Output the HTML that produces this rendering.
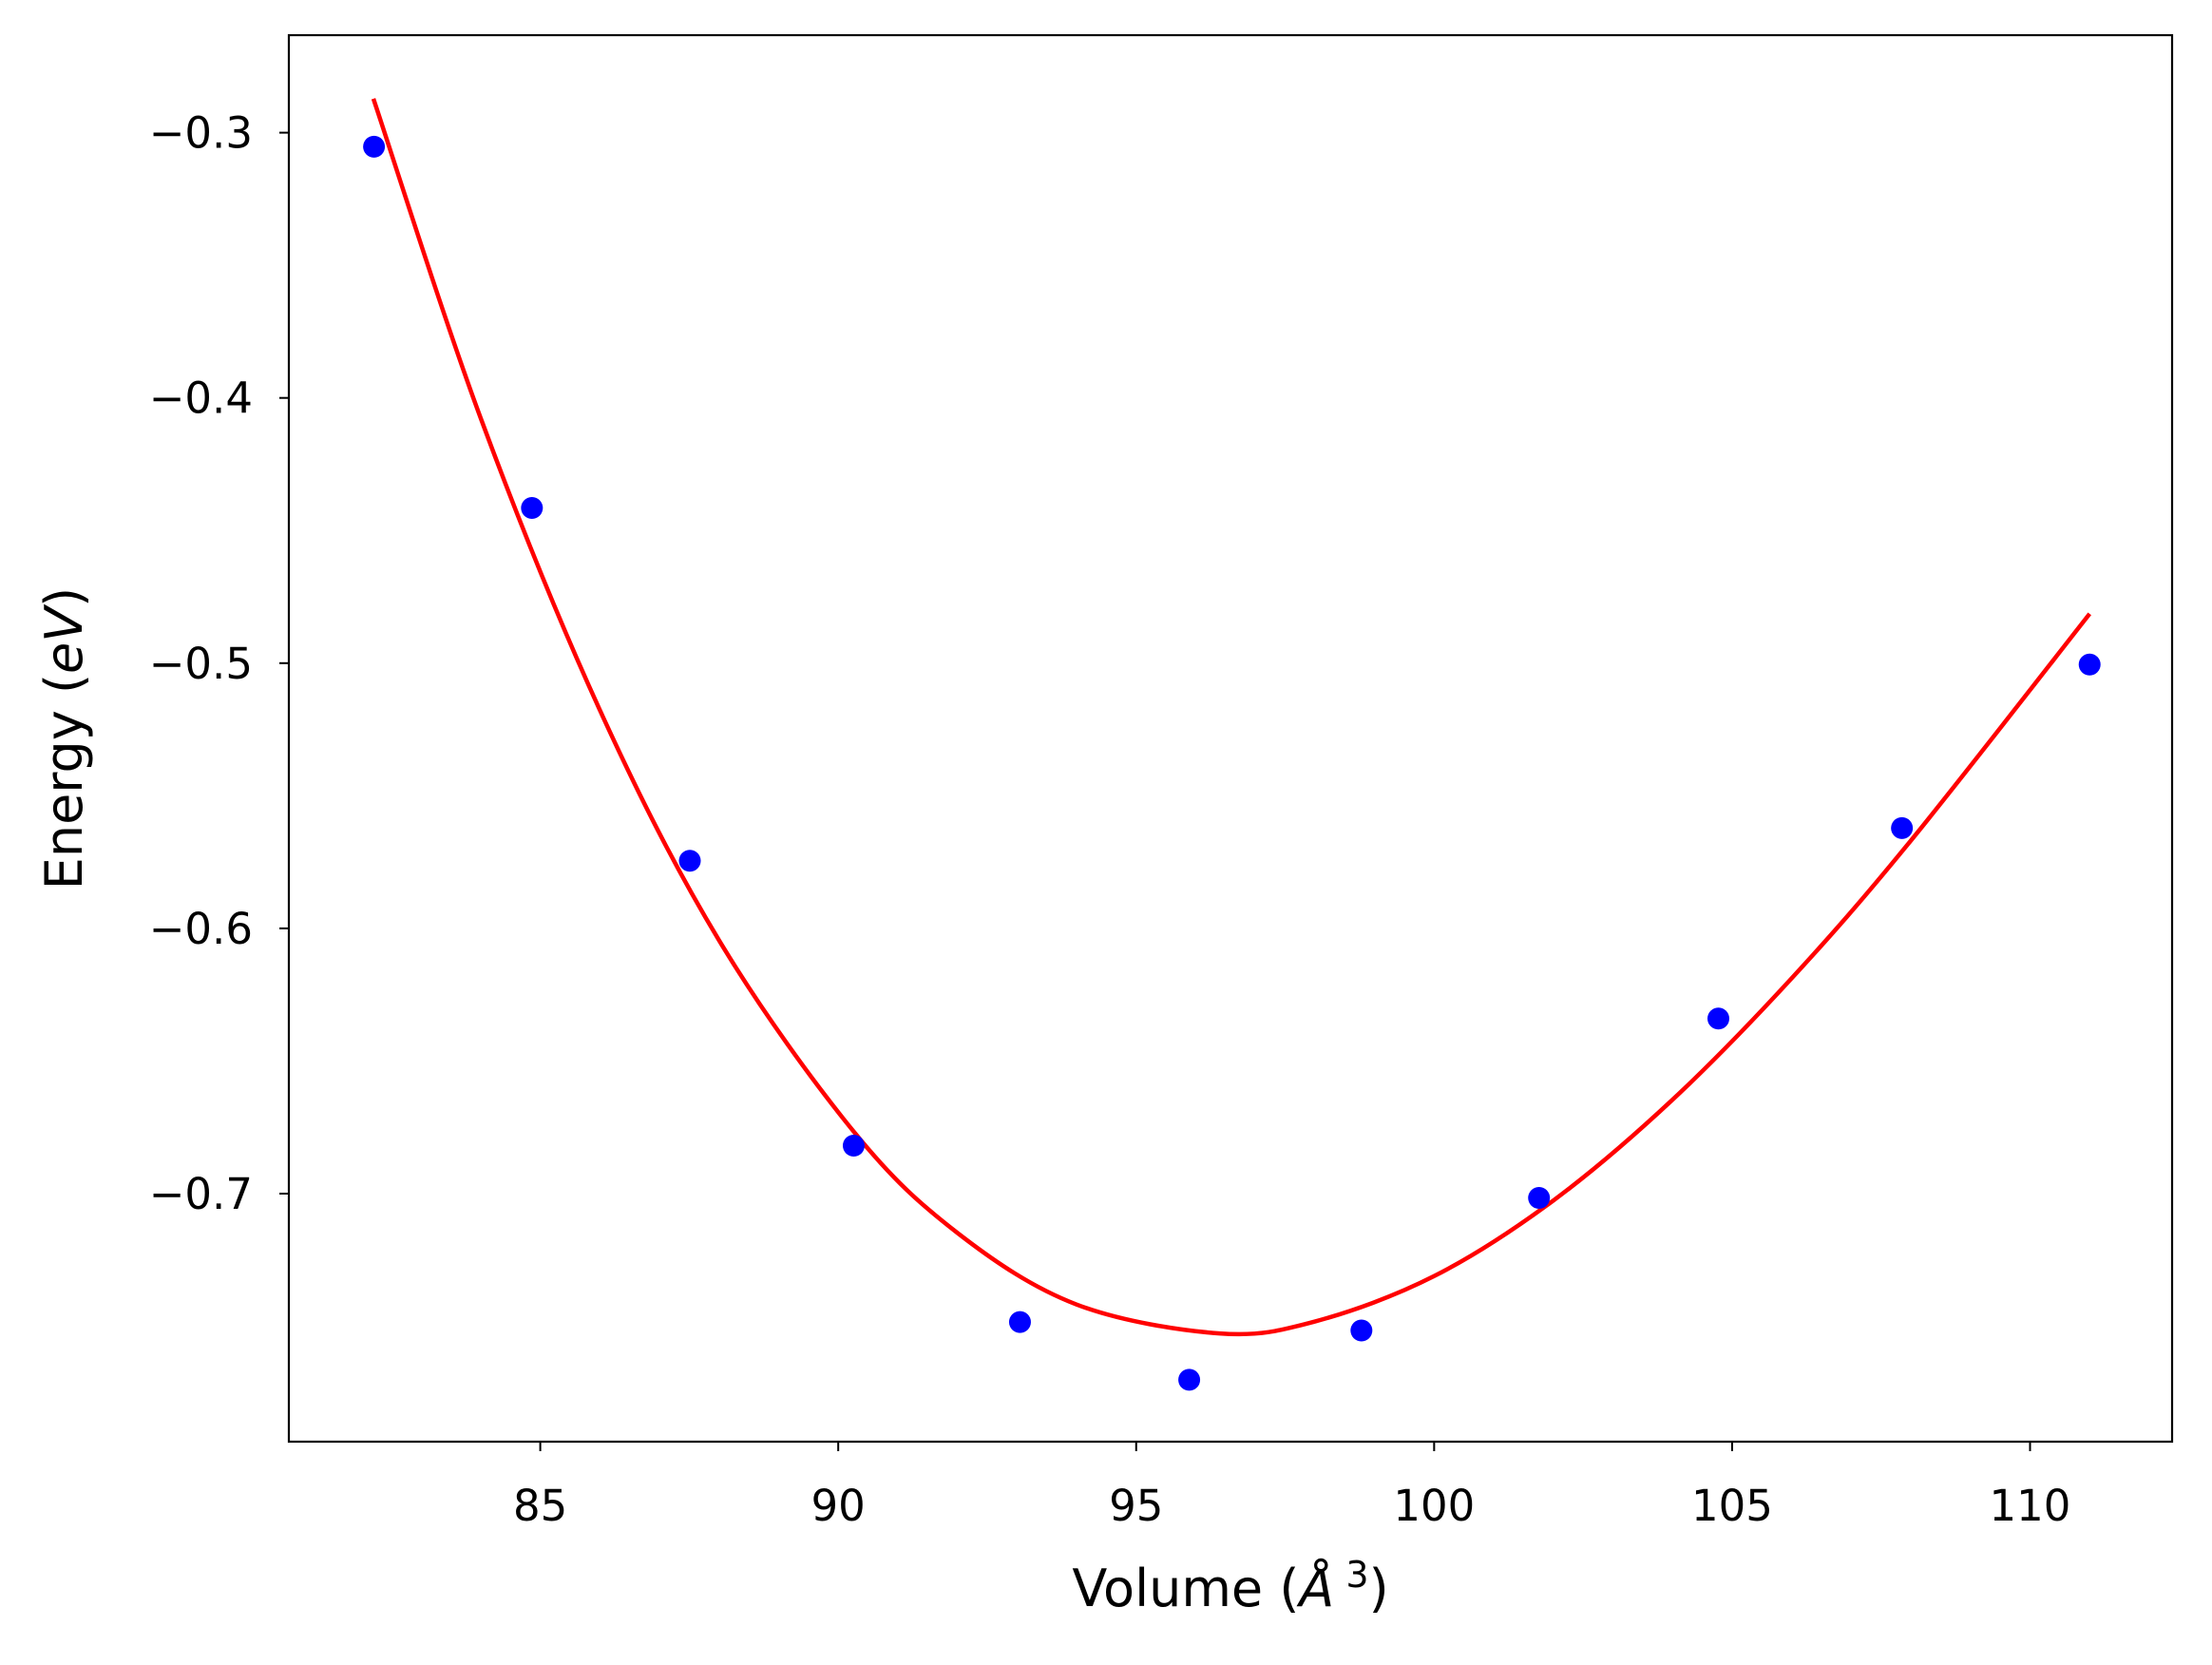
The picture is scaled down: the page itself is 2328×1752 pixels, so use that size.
<!DOCTYPE html>
<html><head><meta charset="utf-8"><style>
html,body{margin:0;padding:0;background:#fff;}
svg text{font-family:"DejaVu Sans","Liberation Sans",sans-serif;fill:#000;}
</style></head><body>
<svg id="chart" width="2328" height="1747" viewBox="0 0 2328 1747" xmlns="http://www.w3.org/2000/svg">
<rect x="0" y="0" width="2328" height="1747" fill="#fff"/>
<g id="plot"></g>
</svg>
<script>
const volumes = [82.21, 84.86, 87.51, 90.26, 93.05, 95.89, 98.78, 101.76, 104.77, 107.85, 111.0];
const energies = [-0.3053, -0.4415, -0.5745, -0.6819, -0.7484, -0.7702, -0.7516, -0.7016, -0.634, -0.5622, -0.5005];
const fitVolumes = [82.2, 84.0, 86.0, 88.0, 90.26, 92.0, 94.0, 96.4, 98.0, 100.0, 102.0, 104.0, 106.0, 108.0, 111.0];
const fitEnergies = [-0.2872, -0.4076, -0.5177, -0.6045, -0.6766, -0.7148, -0.7418, -0.7527, -0.7482, -0.7311, -0.7026, -0.6646, -0.6188, -0.5669, -0.4814];
const xTicks = [85, 90, 95, 100, 105, 110];
const yTicks = [-0.3, -0.4, -0.5, -0.6, -0.7];
const yTickLabels = ["\u22120.3", "\u22120.4", "\u22120.5", "\u22120.6", "\u22120.7"];

const L = 304, R = 2286, T = 37, B = 1517;
function xs(v){ return 568.6 + (v - 85) * (2136.5 - 568.6) / 25; }
function ys(e){ return 139.6 + (-0.3 - e) * (1256 - 139.6) / 0.4; }
const NS = "http://www.w3.org/2000/svg";
const g = document.getElementById('plot');
function mk(tag, attrs){ const el = document.createElementNS(NS, tag); for (const k in attrs) el.setAttribute(k, attrs[k]); g.appendChild(el); return el; }

const pts = fitVolumes.map((v, i) => [xs(v), ys(fitEnergies[i])]);
let d = "M" + pts[0][0] + "," + pts[0][1];
for (let i = 0; i < pts.length - 1; i++) {
  const p0 = pts[Math.max(0, i - 1)], p1 = pts[i], p2 = pts[i + 1], p3 = pts[Math.min(pts.length - 1, i + 2)];
  const c1 = [p1[0] + (p2[0] - p0[0]) / 6, p1[1] + (p2[1] - p0[1]) / 6];
  const c2 = [p2[0] - (p3[0] - p1[0]) / 6, p2[1] - (p3[1] - p1[1]) / 6];
  d += " C" + c1[0] + "," + c1[1] + " " + c2[0] + "," + c2[1] + " " + p2[0] + "," + p2[1];
}
const curve = mk('path', {d: d, fill: 'none', stroke: '#ff0000', 'stroke-width': 4.5});



volumes.forEach((v, i) => {
  const c = mk('circle', {cx: xs(v), cy: ys(energies[i]), r: 11.5, fill: '#0000ff'});
  
  
});

const frame = mk('rect', {x: L, y: T, width: R - L, height: B - T, fill: 'none', stroke: '#000', 'stroke-width': 2.2});



xTicks.forEach(t => {
  const x = xs(t);
  const ln = mk('line', {x1: x, y1: B, x2: x, y2: B + 10, stroke: '#000', 'stroke-width': 2});
  
  
  const tx = mk('text', {x: x, y: 1600, 'font-size': 45, 'text-anchor': 'middle'});
  tx.textContent = String(t);
  
  
});
yTicks.forEach((t, i) => {
  const y = ys(t);
  const ln = mk('line', {x1: L - 10, y1: y, x2: L, y2: y, stroke: '#000', 'stroke-width': 2});
  
  
  const tx = mk('text', {x: 266, y: y + 16, 'font-size': 45, 'text-anchor': 'end'});
  tx.textContent = yTickLabels[i];
  
  
});

const xl = mk('text', {x: 1295, y: 1690, 'font-size': 54, 'text-anchor': 'middle'});
xl.innerHTML = 'Volume (<tspan font-style="italic">Å</tspan><tspan font-size="38" dy="-20"> 3</tspan><tspan dy="20">)</tspan>';



const yl = mk('text', {x: 0, y: 0, 'font-size': 54, 'text-anchor': 'middle', transform: 'translate(86,777) rotate(-90)'});
yl.innerHTML = 'Energy (<tspan font-style="italic">eV</tspan>)';


</script>
</body></html>
